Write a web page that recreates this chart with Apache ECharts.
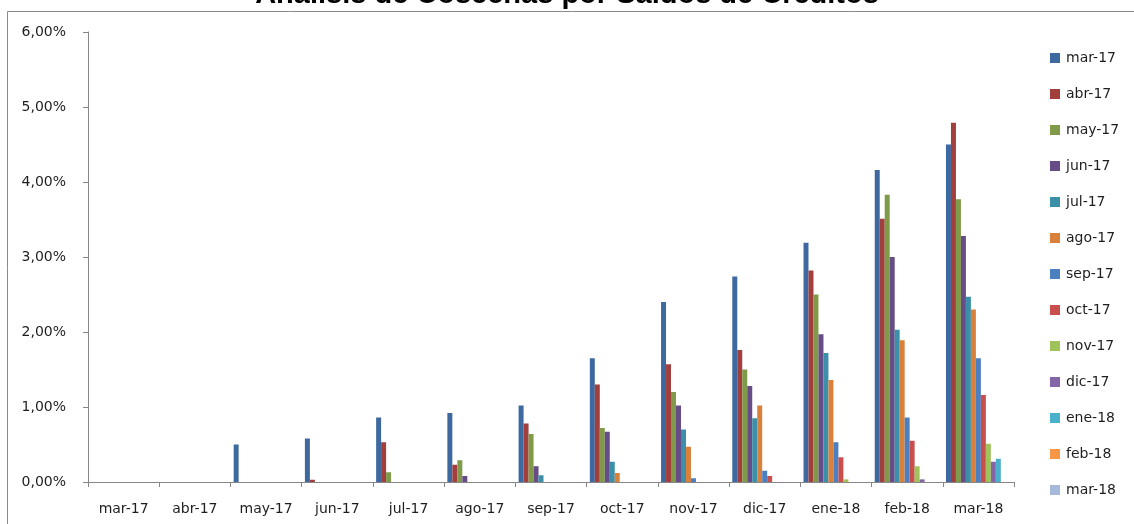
<!DOCTYPE html>
<html>
<head>
<meta charset="utf-8">
<script src="https://cdn.jsdelivr.net/npm/echarts@6/dist/echarts.min.js"></script>
<style>
html,body{margin:0;padding:0;background:#fff;}
#chart{width:1134px;height:524px;}
</style>
</head>
<body>
<div id="chart"></div>
<script>
const titleText = 'Análisis de Cosechas por Saldos de Créditos';
const categories = ['mar-17','abr-17','may-17','jun-17','jul-17','ago-17','sep-17','oct-17','nov-17','dic-17','ene-18','feb-18','mar-18'];
const seriesNames = ['mar-17','abr-17','may-17','jun-17','jul-17','ago-17','sep-17','oct-17','nov-17','dic-17','ene-18','feb-18','mar-18'];
const colors = ['#3E69A0','#A23E3B','#7F9A48','#664D87','#3B8FA8','#D9803A','#4B7FC0','#C84F4C','#A0C25A','#8466A8','#4BB0CB','#F79646','#A7B9DA'];
const yTicks = [0,1,2,3,4,5,6];

// values in percent, by observation month (categories)
const s_mar17 = [0, 0, 0.50, 0.58, 0.86, 0.92, 1.02, 1.65, 2.40, 2.74, 3.19, 4.16, 4.50];
const s_abr17 = [null, 0, 0, 0.03, 0.53, 0.23, 0.78, 1.30, 1.57, 1.76, 2.82, 3.51, 4.79];
const s_may17 = [null, null, 0, 0, 0.13, 0.29, 0.64, 0.72, 1.20, 1.50, 2.50, 3.83, 3.77];
const s_jun17 = [null, null, null, 0, 0, 0.08, 0.21, 0.67, 1.02, 1.28, 1.97, 3.00, 3.28];
const s_jul17 = [null, null, null, null, 0, 0, 0.09, 0.27, 0.70, 0.85, 1.72, 2.03, 2.47];
const s_ago17 = [null, null, null, null, null, 0, 0, 0.12, 0.47, 1.02, 1.36, 1.89, 2.30];
const s_sep17 = [null, null, null, null, null, null, 0, 0, 0.05, 0.15, 0.53, 0.86, 1.65];
const s_oct17 = [null, null, null, null, null, null, null, 0, 0, 0.08, 0.33, 0.55, 1.16];
const s_nov17 = [null, null, null, null, null, null, null, null, 0, 0, 0.035, 0.21, 0.51];
const s_dic17 = [null, null, null, null, null, null, null, null, null, 0, 0, 0.035, 0.27];
const s_ene18 = [null, null, null, null, null, null, null, null, null, null, 0, 0, 0.31];
const s_feb18 = [null, null, null, null, null, null, null, null, null, null, null, 0, 0];
const s_mar18 = [null, null, null, null, null, null, null, null, null, null, null, null, 0];
const seriesValues = [s_mar17,s_abr17,s_may17,s_jun17,s_jul17,s_ago17,s_sep17,s_oct17,s_nov17,s_dic17,s_ene18,s_feb18,s_mar18];

const fmt = v => v.toFixed(2).replace('.', ',') + '%';
const txt = '#1e1e1e';
const axisGray = '#868686';

const chart = echarts.init(document.getElementById('chart'), null, {renderer:'canvas'});
chart.setOption({
  animation: false,
  backgroundColor: '#fff',
  color: colors,
  title: {
    text: titleText,
    left: 'center',
    top: -25,
    textStyle: {fontFamily: 'Liberation Sans', fontWeight: 'bold', fontSize: 29, color: '#000'}
  },
  graphic: [{
    type: 'rect', shape: {x: 7.5, y: 11.5, width: 1300, height: 700},
    style: {fill: 'none', stroke: '#8a8a8a', lineWidth: 1}, silent: true, z: -1
  }],
  legend: {
    orient: 'vertical',
    left: 1045,
    top: 45,
    itemWidth: 10,
    itemHeight: 10,
    itemGap: 20,
    icon: 'rect',
    data: seriesNames,
    textStyle: {fontFamily: 'DejaVu Sans', fontSize: 14, color: txt, lineHeight: 16, padding: [0,0,0,1]}
  },
  grid: {left: 88, right: 120, top: 32, bottom: 42, containLabel: false},
  xAxis: {
    type: 'category',
    data: categories,
    boundaryGap: true,
    axisLine: {lineStyle: {color: axisGray, width: 1}},
    axisTick: {show: true, length: 5, lineStyle: {color: axisGray}},
    axisLabel: {fontFamily: 'DejaVu Sans', fontSize: 14, color: txt, margin: 20, interval: 0},
    splitLine: {show: false}
  },
  yAxis: {
    type: 'value',
    min: yTicks[0],
    max: yTicks[yTicks.length-1],
    interval: 1,
    axisLine: {show: true, lineStyle: {color: axisGray, width: 1}},
    axisTick: {show: true, length: 5, lineStyle: {color: axisGray}},
    axisLabel: {fontFamily: 'DejaVu Sans', fontSize: 14, color: txt, margin: 22, formatter: fmt},
    splitLine: {show: false}
  },
  series: seriesNames.map((n, i) => ({
    name: n,
    type: 'bar',
    data: seriesValues[i],
    barGap: '0%',
    barCategoryGap: '9%',
    itemStyle: {color: colors[i]}
  }))
});
</script>
</body>
</html>
